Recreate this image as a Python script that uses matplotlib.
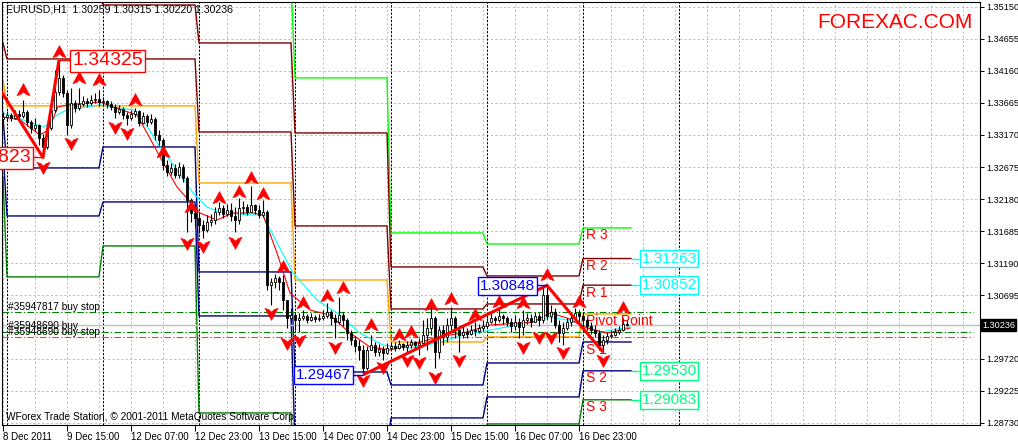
import numpy as np
import matplotlib
matplotlib.use("Agg")
import matplotlib.pyplot as plt
import matplotlib.transforms as mtransforms
from matplotlib.path import Path

plt.rcParams['font.family'] = ['Liberation Sans', 'DejaVu Sans']

# EURUSD H1, bar 0 = 8 Dec 2011 23:00, one bar per hour (weekend skipped)
first_open = 1.33420
closes = [
    1.33448, 1.33479, 1.33432, 1.33494, 1.33463, 1.33525, 1.33371, 1.33278, 1.33324, 1.33124,
    1.32985, 1.33278, 1.33556, 1.33833, 1.34049, 1.33818, 1.33324, 1.33664, 1.33587, 1.33648,
    1.33695, 1.33664, 1.33710, 1.33725, 1.33679, 1.33695, 1.33648, 1.33602, 1.33525, 1.33571,
    1.33479, 1.33432, 1.33494, 1.33540, 1.33355, 1.33463, 1.33371, 1.33417, 1.33170, 1.33093,
    1.32707, 1.32599, 1.32661, 1.32552, 1.32676, 1.32506, 1.32167, 1.31966, 1.31889, 1.31781,
    1.31703, 1.31827, 1.31858, 1.31981, 1.32043, 1.31950, 1.32012, 1.31919, 1.31858, 1.32043,
    1.32058, 1.31981, 1.32089, 1.32012, 1.31935, 1.31981, 1.30855, 1.30901, 1.30963, 1.30901,
    1.30623, 1.30345, 1.30391, 1.30314, 1.30345, 1.30375, 1.30314, 1.30360, 1.30329, 1.30345,
    1.30375, 1.30437, 1.30345, 1.30283, 1.30391, 1.30314, 1.30113, 1.30005, 1.29912, 1.29851,
    1.29573, 1.29851, 1.29928, 1.29820, 1.29866, 1.29804, 1.29882, 1.29912, 1.29882, 1.29943,
    1.29897, 1.29928, 1.29974, 1.29928, 1.29959, 1.30082, 1.30190, 1.30345, 1.29820, 1.30159,
    1.30051, 1.30237, 1.30345, 1.30159, 1.30082, 1.30129, 1.30098, 1.30159, 1.30144, 1.30190,
    1.30221, 1.30283, 1.30345, 1.30314, 1.30375, 1.30345, 1.30283, 1.30221, 1.30283, 1.30206,
    1.30314, 1.30345, 1.30283, 1.30375, 1.30314, 1.30700, 1.30375, 1.30437, 1.30237, 1.30113,
    1.30190, 1.30283, 1.30345, 1.30422, 1.30375, 1.30314, 1.30221, 1.30159, 1.30113, 1.29928,
    1.30005, 1.30067, 1.30082, 1.30129, 1.30159, 1.30259, 1.30236]
highs = [
    1.33525, 1.33540, 1.33509, 1.33556, 1.33556, 1.33710, 1.33556, 1.33401, 1.33432, 1.33340,
    1.33185, 1.33324, 1.33633, 1.34173, 1.34325, 1.34096, 1.33864, 1.33895, 1.33710, 1.33895,
    1.33772, 1.33741, 1.33787, 1.33818, 1.33864, 1.33756, 1.33710, 1.33695, 1.33648, 1.33633,
    1.33602, 1.33525, 1.33556, 1.33587, 1.33556, 1.33525, 1.33494, 1.33494, 1.33448, 1.33247,
    1.33124, 1.32784, 1.32738, 1.32722, 1.32753, 1.32722, 1.32537, 1.32198, 1.32089, 1.31981,
    1.31858, 1.31935, 1.31950, 1.32058, 1.32136, 1.32089, 1.32105, 1.32120, 1.32058, 1.32198,
    1.32151, 1.32105, 1.32383, 1.32105, 1.32089, 1.32167, 1.32012, 1.30963, 1.31025, 1.30994,
    1.31009, 1.30623, 1.30499, 1.30437, 1.30422, 1.30468, 1.30406, 1.30422, 1.30391, 1.30406,
    1.30468, 1.30576, 1.30468, 1.30406, 1.30669, 1.30437, 1.30345, 1.30159, 1.30067, 1.30005,
    1.29928, 1.29912, 1.30082, 1.29974, 1.29943, 1.29912, 1.29959, 1.29974, 1.29974, 1.30005,
    1.29959, 1.29990, 1.30021, 1.29990, 1.30036, 1.30314, 1.30345, 1.30576, 1.30375, 1.30221,
    1.30237, 1.30345, 1.30514, 1.30375, 1.30221, 1.30237, 1.30190, 1.30237, 1.30283, 1.30252,
    1.30314, 1.30345, 1.30422, 1.30375, 1.30484, 1.30406, 1.30375, 1.30345, 1.30391, 1.30345,
    1.30468, 1.30422, 1.30406, 1.30437, 1.30422, 1.30824, 1.30848, 1.30545, 1.30499, 1.30314,
    1.30283, 1.30345, 1.30406, 1.30499, 1.30468, 1.30437, 1.30345, 1.30283, 1.30237, 1.30159,
    1.30082, 1.30129, 1.30159, 1.30190, 1.30221, 1.30345, 1.30315]
lows = [
    1.33386, 1.33401, 1.33386, 1.33417, 1.33401, 1.33432, 1.33309, 1.33201, 1.33232, 1.33016,
    1.32823, 1.32954, 1.33247, 1.33525, 1.33787, 1.33756, 1.33170, 1.33278, 1.33525, 1.33556,
    1.33617, 1.33602, 1.33633, 1.33664, 1.33617, 1.33617, 1.33587, 1.33556, 1.33432, 1.33494,
    1.33417, 1.33324, 1.33401, 1.33448, 1.33309, 1.33340, 1.33309, 1.33340, 1.33093, 1.33000,
    1.32630, 1.32537, 1.32552, 1.32506, 1.32506, 1.32444, 1.31673, 1.31827, 1.31765, 1.31657,
    1.31580, 1.31673, 1.31765, 1.31796, 1.31935, 1.31889, 1.31919, 1.31842, 1.31673, 1.31796,
    1.31950, 1.31935, 1.31981, 1.31950, 1.31889, 1.31904, 1.30777, 1.30545, 1.30808, 1.30777,
    1.30468, 1.30190, 1.30283, 1.30159, 1.30129, 1.30314, 1.30267, 1.30298, 1.30283, 1.30298,
    1.30314, 1.30345, 1.30237, 1.30036, 1.30252, 1.30221, 1.30005, 1.29928, 1.29820, 1.29696,
    1.29467, 1.29542, 1.29851, 1.29758, 1.29758, 1.29696, 1.29789, 1.29851, 1.29835, 1.29866,
    1.29851, 1.29820, 1.29882, 1.29851, 1.29773, 1.29928, 1.29851, 1.30082, 1.29573, 1.29727,
    1.29928, 1.29974, 1.30159, 1.30036, 1.29820, 1.30036, 1.30036, 1.30082, 1.30067, 1.30113,
    1.30144, 1.30206, 1.30267, 1.30237, 1.30283, 1.30252, 1.30221, 1.30129, 1.30159, 1.30036,
    1.30082, 1.30252, 1.30206, 1.30283, 1.30221, 1.30267, 1.30314, 1.30283, 1.30190, 1.29974,
    1.29928, 1.30159, 1.30221, 1.30314, 1.30283, 1.30221, 1.30159, 1.30098, 1.30051, 1.29851,
    1.29820, 1.29943, 1.30036, 1.30067, 1.30098, 1.30144, 1.30220]

# moving averages (at a few bars)
ma_fast_x = [0, 4.25, 9.25, 11.25, 13.75, 16, 24.25, 27.5, 33.5, 36, 39.25, 43.5, 49.25, 53.5,
             57.5, 62.5, 65, 68.5, 71.75, 76.75, 81.75, 86.75, 91.75, 96.75, 103.5, 108.5,
             115, 121.75, 132.5, 136.75, 141, 146, 151, 156.75]
ma_fast_y = [1.33448, 1.33401, 1.33170, 1.33247, 1.33602, 1.33633, 1.33679, 1.33602, 1.33479,
             1.33201, 1.32830, 1.32367, 1.31966, 1.31858, 1.31966, 1.31966, 1.31935, 1.31349,
             1.30730, 1.30468, 1.30391, 1.30113, 1.29897, 1.29851, 1.29959, 1.30051, 1.30113,
             1.30237, 1.30283, 1.30422, 1.30345, 1.30190, 1.30113, 1.30190]
ma_slow_x = [0, 10, 11.75, 13.5, 16, 24.25, 32.5, 35, 39.25, 43.5, 47.5, 51, 54.25, 61.75, 65,
             68.5, 72.5, 78.5, 83.5, 89.25, 95, 101.75, 108.5, 115, 121.75, 132.5, 136.75,
             141, 145, 149.25, 156.75]
ma_slow_y = [1.33509, 1.33293, 1.33355, 1.33479, 1.33556, 1.33633, 1.33556, 1.33401, 1.32985,
             1.32630, 1.32275, 1.32058, 1.31981, 1.31935, 1.31935, 1.31503, 1.31040, 1.30623,
             1.30422, 1.30113, 1.29928, 1.29882, 1.29959, 1.30082, 1.30159, 1.30283, 1.30360,
             1.30314, 1.30237, 1.30129, 1.30206]

# daily pivot levels (one value per day segment)
day_bars = [1, 24, 24, 24, 24, 24, 24, 13]
r3 = [1.35871, 1.35871, 1.35717, 1.35562, 1.34050, 1.31658, 1.31488, 1.31735]
r2 = [1.35408, 1.35408, 1.35176, 1.34590, 1.33201, 1.31133, 1.30994, 1.31263]
r1 = [1.34590, 1.34343, 1.34343, 1.33216, 1.31766, 1.30485, 1.30562, 1.30852]
pp = [1.34019, 1.33618, 1.33618, 1.32429, 1.30932, 1.29975, 1.30053, 1.30408]
s1 = [1.33448, 1.32661, 1.32985, 1.31056, 1.29512, 1.29312, 1.29651, 1.29975]
s2 = [1.32939, 1.31920, 1.32136, 1.30377, 1.28386, 1.28803, 1.29127, 1.29530]
s3 = [1.32522, 1.30979, 1.31457, 1.28880, 1.27691, 1.28154, 1.28710, 1.29083]

# zigzag
zz_a_x = [-1, 10, 14]
zz_a_y = [1.33895, 1.32823, 1.34325]
zz_b_x = [90, 136, 150]
zz_b_y = [1.29467, 1.30848, 1.29820]

# fractals
up_frac_x = [5, 14, 19, 24, 33, 40, 47, 54, 59, 62, 65, 70, 75, 81, 85, 92, 99, 102, 107,
             112, 118, 124, 130, 136, 144, 155]
up_frac_y = [1.33864, 1.34450, 1.34049, 1.34018, 1.33710, 1.32907, 1.32058, 1.32197, 1.32290,
             1.32506, 1.32259, 1.31132, 1.30577, 1.30685, 1.30808, 1.30237, 1.30083, 1.30129,
             1.30546, 1.30639, 1.30392, 1.30592, 1.30577, 1.31009, 1.30592, 1.30500]
dn_frac_x = [10, 17, 28, 31, 46, 50, 58, 67, 71, 74, 83, 90, 95, 101, 104, 108, 114, 130,
             134, 137, 140, 150]
dn_frac_y = [1.32676, 1.33046, 1.33293, 1.33200, 1.31503, 1.31457, 1.31518, 1.30423, 1.29959,
             1.30006, 1.29898, 1.29389, 1.29589, 1.29697, 1.29666, 1.29435, 1.29697, 1.29898,
             1.30052, 1.30052, 1.29821, 1.29697]

# orders and current price
buy_stop_price = 1.30438
buy_price = 1.30129
sl_price = 1.30051
bid = 1.30236

price_ticks = [1.35150, 1.34655, 1.34160, 1.33665, 1.33170, 1.32675, 1.32180, 1.31685,
               1.31190, 1.30695, 1.29720, 1.29225, 1.28730]
time_ticks = [0, 16, 32, 48, 64, 80, 96, 112, 128, 144]
time_labels = ["8 Dec 2011", "9 Dec 15:00", "12 Dec 07:00", "12 Dec 23:00", "13 Dec 15:00",
               "14 Dec 07:00", "14 Dec 23:00", "15 Dec 15:00", "16 Dec 07:00", "16 Dec 23:00"]
day_seps = [1, 25, 49, 73, 97, 121, 145, 169]

fig = plt.figure(figsize=(10.18, 4.42), dpi=100)
ax = fig.add_axes([2 / 1018, 17 / 442, 978 / 1018, 423 / 442])
ax.set_facecolor("white")
ax.set_xlim(-0.25, 244.25)
ax.set_ylim(1.28694, 1.35222)
for sp in ax.spines.values():
    sp.set_color("black")
    sp.set_linewidth(0.8)

# grid
y0, y1 = ax.get_ylim()
ax.vlines(np.arange(0, 245, 8), y0, y1, colors="#c0c0c0", linestyles=(0, (2.2, 2.2)),
          linewidth=0.72, zorder=1)
ax.hlines(price_ticks, -0.25, 244.25, colors="#c0c0c0", linestyles=(0, (2.2, 2.2)),
          linewidth=0.72, zorder=1)
ax.vlines(day_seps, y0, y1, colors="black", linestyles=(0, (2.2, 1.5)),
          linewidth=0.72, zorder=1.5)

# pivot lines
lvl_x = np.arange(sum(day_bars))
pivot_styles = [(r3, "#00ff00"), (r2, "#800000"), (r1, "#800000"), (pp, "#ffa500"),
                (s1, "#000080"), (s2, "#000080"), (s3, "#008000")]
for vals, col in pivot_styles:
    ax.plot(lvl_x, np.repeat(vals, day_bars), color=col, lw=1.0, zorder=2)

for name, val in zip(["R 3", "R 2", "R 1", "Pivot Point", "S 1", "S 2", "S 3"],
                     [r3[-1], r2[-1], r1[-1], pp[-1], s1[-1], s2[-1], s3[-1]]):
    ax.text(145.8, val - 0.00008, name, color="red", fontsize=10, va="top", ha="left",
            zorder=3)

# order lines
ax.axhline(bid, xmin=0, xmax=1, color="#c0c0c0", lw=1.0, zorder=2)
ax.hlines([buy_stop_price, buy_price], -0.25, 242.5, colors="#008000",
          linestyles=(0, (6, 2, 1.2, 2)), linewidth=0.8, zorder=2)
ax.hlines([sl_price], -0.25, 242.5, colors="#ff4500",
          linestyles=(0, (6, 2, 1.2, 2)), linewidth=0.8, zorder=2)
ax.text(1.2, buy_stop_price + 0.00006, "#35947817 buy stop", fontsize=7.3, va="bottom",
        zorder=3)
ax.text(1.2, sl_price + 0.00004, "#35948690 buy stop", fontsize=7.3, va="bottom", zorder=3)
ax.text(1.2, buy_price + 0.00010, "#35948690 buy", fontsize=7.3, va="bottom", zorder=3)

# moving averages
ax.plot(ma_slow_x, ma_slow_y, color="#00ffff", lw=0.8, zorder=3)
ax.plot(ma_fast_x, ma_fast_y, color="#ff0000", lw=0.8, zorder=3)

# candles
bars = np.arange(len(closes))
c = np.array(closes)
o = np.r_[first_open, c[:-1]]
h = np.array(highs)
l = np.array(lows)
ax.vlines(bars, l, h, colors="black", linewidth=0.8, zorder=4)
bull = c >= o
face = np.where(bull, "white", "black")
body = np.where(np.abs(c - o) < 0.00004, 0.00004, np.abs(c - o))
ax.bar(bars, body, bottom=np.minimum(o, c), width=0.7, color=face, edgecolor="black",
       linewidth=0.6, zorder=4.5)

# zigzag
ax.plot(zz_a_x, zz_a_y, color="red", lw=2.2, zorder=5, solid_capstyle="butt")
ax.plot(zz_b_x, zz_b_y, color="red", lw=2.2, zorder=5, solid_capstyle="butt")

# fractal arrows
up_marker = Path([(0, 1), (0.95, -0.75), (0.35, -0.55), (0, -0.2), (-0.35, -0.55),
                  (-0.95, -0.75), (0, 1)],
                 [Path.MOVETO] + [Path.LINETO] * 5 + [Path.CLOSEPOLY])
dn_marker = Path([(0, -1), (0.95, 0.75), (0.35, 0.55), (0, 0.2), (-0.35, 0.55),
                  (-0.95, 0.75), (0, -1)],
                 [Path.MOVETO] + [Path.LINETO] * 5 + [Path.CLOSEPOLY])
ax.plot(up_frac_x, up_frac_y, ls="none", marker=up_marker, ms=10, color="red",
        mec="red", mew=0.4, zorder=6)
ax.plot(dn_frac_x, dn_frac_y, ls="none", marker=dn_marker, ms=10, color="red",
        mec="red", mew=0.4, zorder=6)

# zigzag price labels
def box_label(x, y, txt, col, size, ha):
    ax.text(x, y, txt, color=col, fontsize=size, ha=ha, va="center", zorder=7,
            bbox=dict(boxstyle="square,pad=0.12", fc="white", ec=col, lw=1.0))

ax.hlines(1.32823, 7.5, 10, colors="red", lw=1, zorder=6)
box_label(7.0, 1.32815, "1.32823", "red", 14, "right")
ax.hlines(1.34325, 14, 16.75, colors="red", lw=1, zorder=6)
box_label(17.3, 1.34312, "1.34325", "red", 14, "left")
ax.hlines(1.29467, 87.5, 90, colors="blue", lw=1, zorder=6)
box_label(87.0, 1.29465, "1.29467", "blue", 11, "right")
ax.hlines(1.30848, 133.5, 136, colors="blue", lw=1, zorder=6)
box_label(133.0, 1.30839, "1.30848", "blue", 11, "right")

# pivot value labels on the right
for val, col in [(r2[-1], "#00ffff"), (r1[-1], "#00ffff"), (s2[-1], "#00ff80"),
                 (s3[-1], "#00ff80")]:
    ax.hlines(val, 157, 159, colors=col, lw=1, zorder=6)
    box_label(159.6, val, "%.5f" % val, col, 11, "left")

# axes ticks
ax.yaxis.tick_right()
ax.set_yticks(price_ticks)
ax.set_yticklabels(["%.5f" % v for v in price_ticks])
ax.tick_params(axis="y", direction="out", length=3, width=0.7, pad=1.5, labelsize=6.6)
ax.set_xticks(time_ticks)
ax.set_xticklabels(time_labels)
ax.tick_params(axis="x", direction="out", length=4, width=0.7, pad=1, labelsize=7)
for lbl in ax.get_xticklabels():
    lbl.set_horizontalalignment("left")

trans = mtransforms.blended_transform_factory(ax.transAxes, ax.transData)
ax.text(1.002, bid, "1.30236", transform=trans, color="white", fontsize=6.6, va="center",
        ha="left", zorder=8, clip_on=False,
        bbox=dict(boxstyle="square,pad=0.15", fc="black", ec="black"))

fig.text(6 / 1018, 1 - 10 / 442, "EURUSD,H1  1.30259 1.30315 1.30220 1.30236",
         fontsize=7.6, va="center", ha="left")
fig.text(6 / 1018, 1 - 417 / 442,
         "WForex Trade Station, \u00a9 2001-2011 MetaQuotes Software Corp.",
         fontsize=7.3, va="center", ha="left")
fig.text(817 / 1018, 1 - 22 / 442, "FOREXAC.COM", color="red", fontsize=15,
         va="center", ha="left")

fig.savefig("out.png", dpi=100, facecolor="white")
